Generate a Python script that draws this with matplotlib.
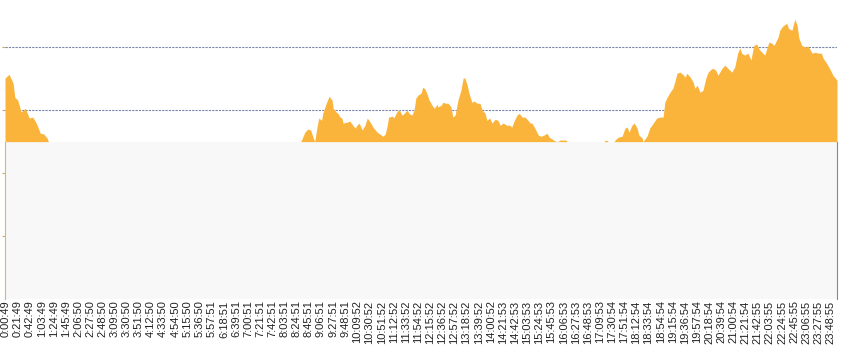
import matplotlib
matplotlib.use("Agg")
import matplotlib.pyplot as plt
import numpy as np

# minutes since midnight
MINUTES = [
    0, 7, 14, 17, 22, 28, 35, 42, 48, 54, 57, 61, 67, 73, 75,
    510, 512, 519, 524, 529, 533, 536, 540, 543, 548, 550, 556, 561, 566, 568,
    573, 576, 580, 583, 585, 592, 597, 602, 606, 609, 613, 618, 623, 627, 632,
    637, 644, 649, 654, 658, 661, 664, 671, 673, 678, 682, 687, 691, 696, 699,
    704, 708, 711, 715, 720, 723, 727, 730, 734, 739, 743, 748, 749, 755, 758,
    763, 767, 772, 775, 779, 784, 789, 793, 796, 800, 803, 808, 812, 817, 822,
    826, 831, 834, 839, 843, 848, 853, 857, 862, 869, 874, 877, 881, 886, 890,
    895, 900, 905, 909, 912, 917, 923, 928, 933, 938, 942, 947, 952, 957, 960,
    971, 973, 1037, 1038, 1042, 1044, 1054, 1056, 1061, 1068, 1073, 1077, 1080, 1085, 1089,
    1094, 1097, 1103, 1104, 1111, 1116, 1122, 1128, 1134, 1139, 1142, 1146, 1151, 1156, 1160,
    1163, 1168, 1173, 1177, 1180, 1186, 1191, 1194, 1198, 1203, 1208, 1213, 1217, 1222, 1225,
    1230, 1234, 1241, 1246, 1251, 1258, 1263, 1268, 1272, 1275, 1280, 1286, 1291, 1296, 1301,
    1305, 1310, 1315, 1322, 1327, 1331, 1338, 1341, 1346, 1353, 1356, 1362, 1367, 1371, 1374,
    1379, 1385, 1390, 1397, 1402, 1408, 1413, 1416, 1422, 1427, 1433, 1440,
]
VALUES = [
    70.2, 71.4, 68.6, 64.1, 63.2, 59.4, 60.6, 57.5, 57.8, 55.9, 54.6, 52.7, 52.4, 51.1, 50.0,
    50.0, 50.0, 53.0, 54.0, 53.7, 51.4, 50.0, 54.6, 57.5, 56.8, 59.0, 62.2, 64.4, 63.2, 60.6,
    59.4, 59.0, 57.8, 57.5, 55.9, 56.2, 56.5, 55.2, 54.3, 55.2, 55.9, 53.7, 55.2, 57.5, 56.2,
    54.6, 53.0, 52.4, 51.7, 52.4, 54.6, 57.8, 58.1, 57.5, 59.4, 60.3, 58.4, 59.0, 60.0, 59.0,
    58.4, 60.0, 63.8, 64.8, 65.4, 67.3, 66.7, 65.4, 63.2, 61.6, 60.6, 61.9, 61.0, 61.6, 62.5,
    62.2, 62.2, 61.0, 57.8, 58.4, 63.2, 66.3, 70.2, 70.2, 67.9, 65.4, 62.5, 62.9, 62.2, 62.2,
    60.0, 59.0, 56.8, 57.5, 55.9, 57.1, 56.8, 55.2, 55.9, 55.2, 55.2, 54.6, 56.5, 58.4, 59.0,
    57.8, 57.8, 56.8, 55.9, 55.9, 54.3, 52.1, 51.7, 52.1, 52.7, 51.4, 50.8, 50.2, 50.0, 50.5,
    50.5, 50.0, 50.0, 50.4, 50.4, 50.0, 50.0, 50.5, 51.4, 51.7, 54.3, 54.6, 53.0, 55.2, 55.9,
    54.3, 52.1, 51.1, 50.0, 51.7, 54.3, 55.9, 57.5, 57.8, 57.8, 62.5, 64.1, 65.7, 67.0, 69.5,
    71.7, 72.1, 71.4, 70.5, 71.7, 70.5, 68.9, 67.0, 67.9, 65.7, 66.3, 70.2, 72.1, 73.0, 73.3,
    72.7, 71.1, 73.3, 74.3, 73.3, 72.1, 73.7, 78.1, 79.7, 78.1, 77.5, 78.1, 75.9, 80.6, 81.0,
    79.4, 78.4, 77.5, 81.6, 81.3, 80.6, 83.2, 85.4, 86.7, 87.6, 86.0, 85.4, 88.9, 87.0, 82.9,
    80.6, 80.0, 80.3, 78.1, 78.4, 78.1, 78.1, 76.5, 74.9, 73.3, 71.1, 69.5,
]
BASELINE = 50
GRID_LEVELS = [60, 80]
TICK_LEVELS = [20, 40, 60, 80]
TICK_LABELS = [
    "0:00:49", "0:21:49", "0:42:49", "1:03:49", "1:24:49", "1:45:49", "2:06:50", "2:27:50",
    "2:48:50", "3:09:50", "3:30:50", "3:51:50", "4:12:50", "4:33:50", "4:54:50", "5:15:50",
    "5:36:50", "5:57:51", "6:18:51", "6:39:51", "7:00:51", "7:21:51", "7:42:51", "8:03:51",
    "8:24:51", "8:45:51", "9:06:51", "9:27:51", "9:48:51", "10:09:52", "10:30:52", "10:51:52",
    "11:12:52", "11:33:52", "11:54:52", "12:15:52", "12:36:52", "12:57:52", "13:18:52", "13:39:52",
    "14:00:52", "14:21:53", "14:42:53", "15:03:53", "15:24:53", "15:45:53", "16:06:53", "16:27:53",
    "16:48:53", "17:09:53", "17:30:54", "17:51:54", "18:12:54", "18:33:54", "18:54:54", "19:15:54",
    "19:36:54", "19:57:54", "20:18:54", "20:39:54", "21:00:54", "21:21:54", "21:42:55", "22:03:55",
    "22:24:55", "22:45:55", "23:06:55", "23:27:55", "23:48:55",
]


def to_minutes(label):
    h, m, s = (int(p) for p in label.split(":"))
    return h * 60 + m + s / 60.0


def main():
    plt.rcParams["font.family"] = ["Liberation Sans", "DejaVu Sans"]
    fig = plt.figure(figsize=(8.41, 3.52), dpi=100)
    ax = fig.add_axes([5 / 841, 53 / 352, 832 / 841, 299 / 352])

    t = np.asarray(MINUTES, dtype=float)
    v = np.asarray(VALUES, dtype=float)

    ax.axhspan(0, BASELINE, color="#f8f8f8", zorder=1, linewidth=0)
    for level in GRID_LEVELS:
        ax.axhline(level, color="#7a86aa", linewidth=0.8, linestyle=(0, (2, 1)), zorder=0.5)
    ax.fill_between(t, BASELINE, v, color="#fab43c", linewidth=0, zorder=2)

    ax.set_xlim(0, 1440)
    ax.set_ylim(0, 95)

    ax.set_xticks([to_minutes(s) for s in TICK_LABELS])
    ax.set_xticklabels(TICK_LABELS, rotation=90, fontsize=8, color="#222222")
    ax.tick_params(axis="x", length=0, pad=1)
    ax.set_yticks(TICK_LEVELS)
    ax.tick_params(axis="y", length=2, color="#c9a86a", labelleft=False)

    ax.spines["top"].set_visible(False)
    ax.spines["bottom"].set_visible(False)
    ax.spines["left"].set_color("#e2b66a")
    ax.spines["left"].set_bounds(0, BASELINE)
    ax.spines["right"].set_color("#888888")
    ax.spines["right"].set_bounds(0, BASELINE)

    fig.savefig("out.png", dpi=100)
    plt.close(fig)


if __name__ == "__main__":
    main()
